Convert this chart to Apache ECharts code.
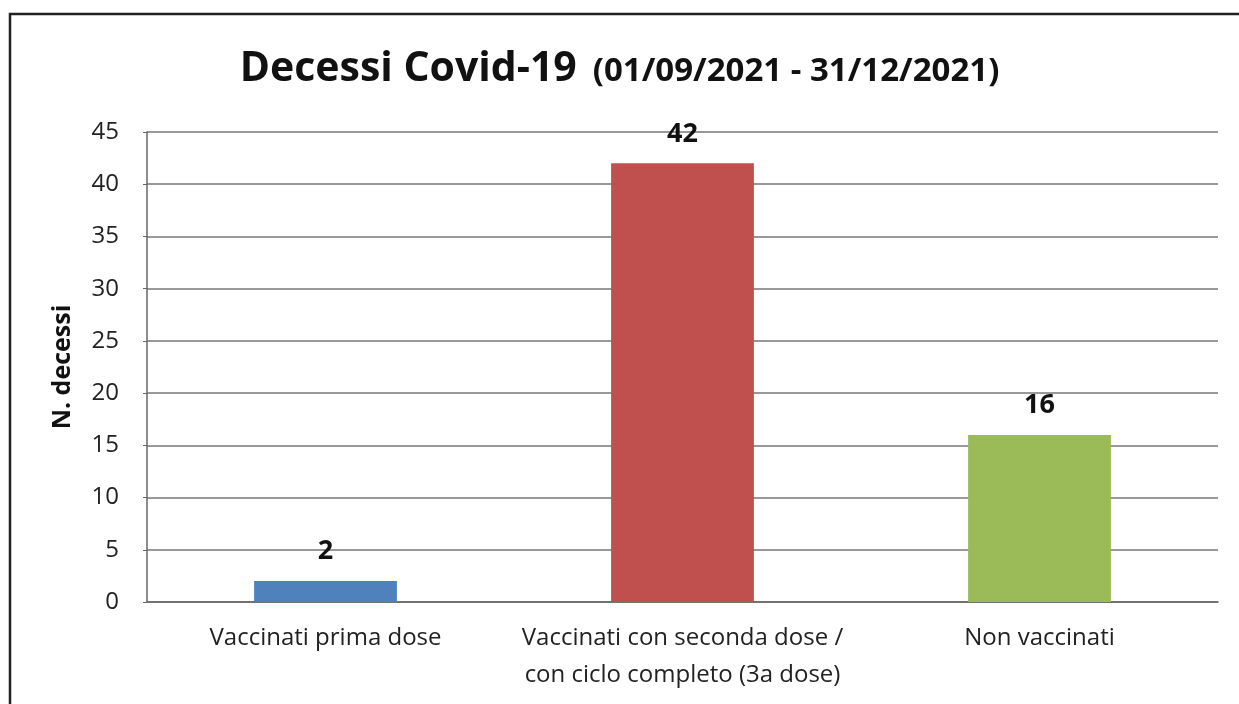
<!DOCTYPE html>
<html><head><meta charset="utf-8">
<script src="https://cdn.jsdelivr.net/npm/echarts@6/dist/echarts.min.js"></script>
<style>html,body{margin:0;padding:0;background:#fff}#c{width:1239px;height:704px}</style>
</head><body><div id="c"></div>
<script>
const categories = ['Vaccinati prima dose', 'Vaccinati con seconda dose /\ncon ciclo completo (3a dose)', 'Non vaccinati'];
const values = [2, 42, 16];
const barColors = ['#4f81bd', '#c0504d', '#9bbb59'];
const yTicks = [0, 5, 10, 15, 20, 25, 30, 35, 40, 45];

const chart = echarts.init(document.getElementById('c'));
const F = '"Open Sans", Lato, sans-serif';
chart.setOption({
  backgroundColor: '#fff',
  textStyle: { fontFamily: F },
  title: {
    text: '{a|Decessi Covid-19}{b|(01/09/2021 - 31/12/2021)}',
    left: 'center', top: 44,
    textStyle: {
      rich: {
        a: { fontSize: 41, fontWeight: 'bold', color: '#111', fontFamily: F },
        b: { fontSize: 33, fontWeight: 'bold', color: '#111', fontFamily: F, padding: [5, 0, 0, 16] }
      }
    }
  },
  graphic: [{
    type: 'rect', shape: { x: 10, y: 14, width: 1240, height: 720 },
    style: { fill: 'none', stroke: '#222', lineWidth: 2.5 }, silent: true
  }],
  grid: { left: 147, right: 21, top: 132, bottom: 102 },
  xAxis: {
    type: 'category', data: categories,
    axisLine: { lineStyle: { color: '#666', width: 1.5 } },
    axisTick: { show: false },
    axisLabel: { interval: 0, fontSize: 24, color: '#222', margin: 18, lineHeight: 37, fontFamily: F }
  },
  yAxis: {
    type: 'value', min: 0, max: 45, interval: 5,
    name: 'N. decessi', nameLocation: 'middle', nameGap: 72,
    nameTextStyle: { fontSize: 25, fontWeight: 'bold', color: '#111', fontFamily: F },
    axisLine: { show: true, lineStyle: { color: '#666', width: 1.5 } },
    axisTick: { show: true, length: 4, lineStyle: { color: '#666' } },
    axisLabel: { fontSize: 24, color: '#222', margin: 28, fontFamily: F,
      formatter: v => yTicks.includes(v) ? String(v) : '' },
    splitLine: { lineStyle: { color: '#777', width: 1.5 } }
  },
  series: [{
    type: 'bar', barWidth: '40%',
    data: values.map((v, i) => ({ value: v, itemStyle: { color: barColors[i] } })),
    label: { show: true, position: 'top', distance: 16, fontSize: 27, fontWeight: 'bold', color: '#111', fontFamily: F }
  }]
});
</script></body></html>
